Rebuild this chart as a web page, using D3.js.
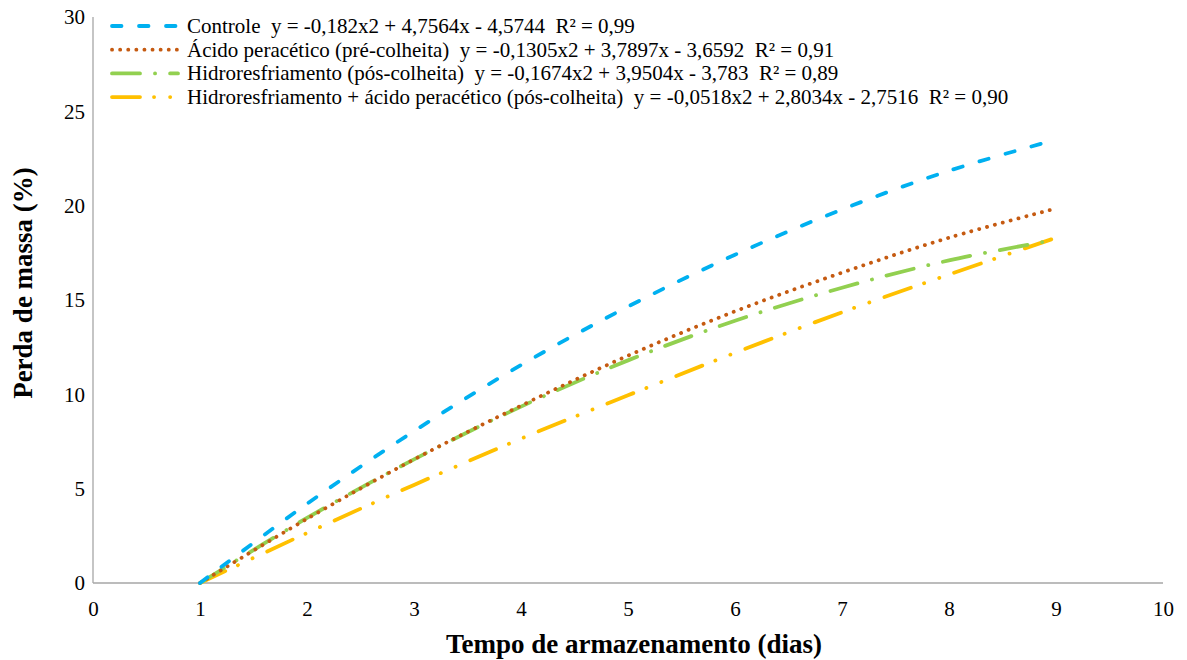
<!DOCTYPE html>
<html>
<head>
<meta charset="utf-8">
<script src="https://cdn.jsdelivr.net/npm/d3@7"></script>
<style>
  body { margin: 0; background: #fff; }
</style>
</head>
<body>
<svg id="chart" width="1187" height="660"></svg>
<script>
// days
const days = [1, 2, 3, 4, 5, 6, 7, 8, 9];

// mass loss (%) per series, read at each day
const controle = [0, 4.2, 8.05, 11.55, 14.65, 17.4, 19.8, 21.85, 23.5];
const acido = [0, 3.4, 6.55, 9.4, 12.05, 14.4, 16.45, 18.3, 19.85];
const hidro = [0, 3.45, 6.55, 9.35, 11.8, 13.9, 15.65, 17.1, 18.2];
const hidroAcido = [0, 2.65, 5.2, 7.65, 9.95, 12.2, 14.35, 16.35, 18.3];

const seriesNames = [
  "Controle  y = -0,182x2 + 4,7564x - 4,5744  R² = 0,99",
  "Ácido peracético (pré-colheita)  y = -0,1305x2 + 3,7897x - 3,6592  R² = 0,91",
  "Hidroresfriamento (pós-colheita)  y = -0,1674x2 + 3,9504x - 3,783  R² = 0,89",
  "Hidroresfriamento + ácido peracético (pós-colheita)  y = -0,0518x2 + 2,8034x - 2,7516  R² = 0,90"
];
const xTicks = [0, 1, 2, 3, 4, 5, 6, 7, 8, 9, 10];
const yTicks = [0, 5, 10, 15, 20, 25, 30];

const colors = ["#00B0F0", "#C55A11", "#92D050", "#FFC000"];
const dashes = ["9.5 17.5", "0.1 8", "28 15 0.1 15", "28 14 0.1 16 0.1 16"];
const serif = "Liberation Serif";

const svg = d3.select("#chart");

const x = d3.scaleLinear().domain([0, 10]).range([93, 1163]);
const y = d3.scaleLinear().domain([0, 30]).range([583, 17]);

// axis lines
svg.append("line")
  .attr("x1", x(0)).attr("x2", x(0))
  .attr("y1", y(30)).attr("y2", y(0))
  .attr("stroke", "#a6a6a6").attr("stroke-width", 1.3);
svg.append("line")
  .attr("x1", x(0)).attr("x2", x(10))
  .attr("y1", y(0)).attr("y2", y(0))
  .attr("stroke", "#a6a6a6").attr("stroke-width", 1.3);

const xAxis = svg.append("g")
  .attr("transform", `translate(0,${y(0)})`)
  .call(d3.axisBottom(x).tickValues(xTicks).tickSize(0).tickPadding(18));
xAxis.select(".domain").remove();
xAxis.attr("font-family", serif).attr("font-size", 21);
xAxis.selectAll("text").attr("fill", "#000");

const yAxis = svg.append("g")
  .attr("transform", `translate(${x(0)},0)`)
  .call(d3.axisLeft(y).tickValues(yTicks).tickSize(0).tickPadding(8));
yAxis.select(".domain").remove();
yAxis.attr("font-family", serif).attr("font-size", 21);
yAxis.selectAll("text").attr("fill", "#000");

// axis titles
svg.append("text")
  .attr("x", 634).attr("y", 653)
  .attr("text-anchor", "middle")
  .attr("font-family", serif)
  .attr("font-size", 27).attr("font-weight", "bold")
  .text("Tempo de armazenamento (dias)");
svg.append("text")
  .attr("transform", "translate(32,283) rotate(-90)")
  .attr("text-anchor", "middle")
  .attr("font-family", serif)
  .attr("font-size", 27).attr("font-weight", "bold")
  .text("Perda de massa (%)");

const allSeries = [controle, acido, hidro, hidroAcido];

const line = d3.line()
  .x((d, i) => x(days[i]))
  .y(d => y(d))
  .curve(d3.curveCatmullRom);

// draw bottom series first so controle sits on top
[3, 2, 1, 0].forEach(k => {
  svg.append("path")
    .datum(allSeries[k])
    .attr("d", line)
    .attr("fill", "none")
    .attr("stroke", colors[k])
    .attr("stroke-width", 3.8)
    .attr("stroke-linecap", "round")
    .attr("stroke-dasharray", dashes[k]);
});

// legend
const legend = svg.append("g").attr("transform", "translate(110,26)");
seriesNames.forEach((name, i) => {
  const row = legend.append("g").attr("transform", `translate(0,${i * 23.7})`);
  row.append("line")
    .attr("x1", 2).attr("x2", 68)
    .attr("y1", 0).attr("y2", 0)
    .attr("stroke", colors[i])
    .attr("stroke-width", 3.8)
    .attr("stroke-linecap", "round")
    .attr("stroke-dasharray", dashes[i]);
  row.append("text")
    .attr("x", 77).attr("y", 7)
    .attr("xml:space", "preserve")
    .style("white-space", "pre")
    .attr("font-family", serif)
    .attr("font-size", 21)
    .text(name);
});
</script>
</body>
</html>
